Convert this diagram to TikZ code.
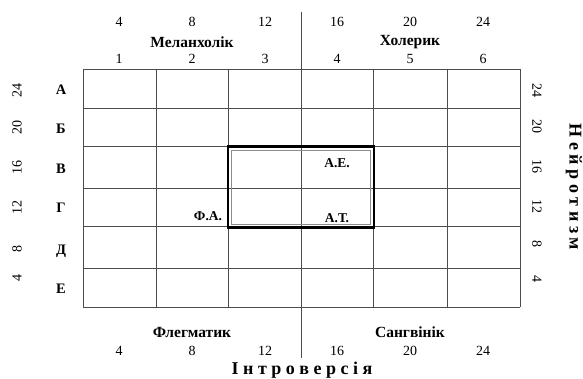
\documentclass[tikz,border=0pt]{standalone}
\usepackage{fontspec}
\setmainfont{Liberation Serif}
\begin{document}
\begin{tikzpicture}[x=1pt,y=-1pt,
  num/.style={font=\fontsize{14}{15}\selectfont, inner sep=0pt},
  lab/.style={font=\fontsize{15.5}{16}\selectfont\bfseries, inner sep=0pt},
  letter/.style={font=\fontsize{14.5}{15}\selectfont\bfseries, inner sep=0pt},
  small/.style={font=\fontsize{13.5}{14}\selectfont\bfseries, inner sep=0pt},
  axis/.style={font=\fontsize{18}{19}\selectfont\bfseries, inner sep=0pt},
  gridline/.style={draw=black!70, line width=0.8pt}]
\useasboundingbox (0,0) rectangle (583,379);
% grid
\foreach \x in {83,156,228,301,373,447,520}
  \draw[gridline] (\x,69) -- (\x,307);
\foreach \y in {69,108,146,188,226,268,307}
  \draw[gridline] (83,\y) -- (520,\y);
% axis line
\coordinate (axtop) at (301,12);
\coordinate (axbot) at (301,358);
\coordinate (gtop) at (301,69);
\coordinate (gbot) at (301,307);
\draw[gridline] (axtop) -- (gtop);
\draw[gridline] (gbot) -- (axbot);
% thick box
\node[draw=black, line width=2.6pt, minimum width=146pt, minimum height=81pt, inner sep=0pt] (box) at (301,187) {};
\node[draw=black!45, line width=0.6pt, minimum width=139pt, minimum height=74pt, inner sep=0pt] (ibox) at (301,187) {};
% top
\foreach \v/\x in {4/119,8/192,12/265,16/337,20/410,24/483}
  \node[num] at (\x,22) {\v};
\foreach \v/\x in {1/119,2/192,3/265,4/337,5/410,6/483}
  \node[num] at (\x,59) {\v};
\node[lab] (mel) at (192,42) {Меланхолік};
\node[lab] (chol) at (410,42) {Холерик};
% bottom
\node[lab] (fleg) at (192,332) {Флегматик};
\node[lab] (sang) at (410,332) {Сангвінік};
\foreach \v/\x in {4/119,8/192,12/265,16/337,20/410,24/483}
  \node[num] at (\x,351) {\v};
\node[axis] (intro) at (302,370) {І н т р о в е р с і я};
% left
\foreach \v/\y in {24/91,20/128,16/168,12/208,8/249,4/278}
  \node[num, rotate=90] at (17,\y) {\v};
\foreach \v/\y in {А/90,Б/129,В/169,Г/208,Д/251,Е/289}
  \node[letter] at (61,\y) {\v};
% right
\foreach \v/\y in {24/91,20/127,16/167,12/207,8/244,4/279}
  \node[num, rotate=-90] at (537,\y) {\v};
\node[axis, rotate=-90] (neur) at (574,187) {Н е й р о т и з м};
% names
\node[small] (ae) at (337,163) {А.Е.};
\node[small] (at) at (337,218) {А.Т.};
\node[small] (fa) at (208,216) {Ф.А.};
\end{tikzpicture}
\end{document}
